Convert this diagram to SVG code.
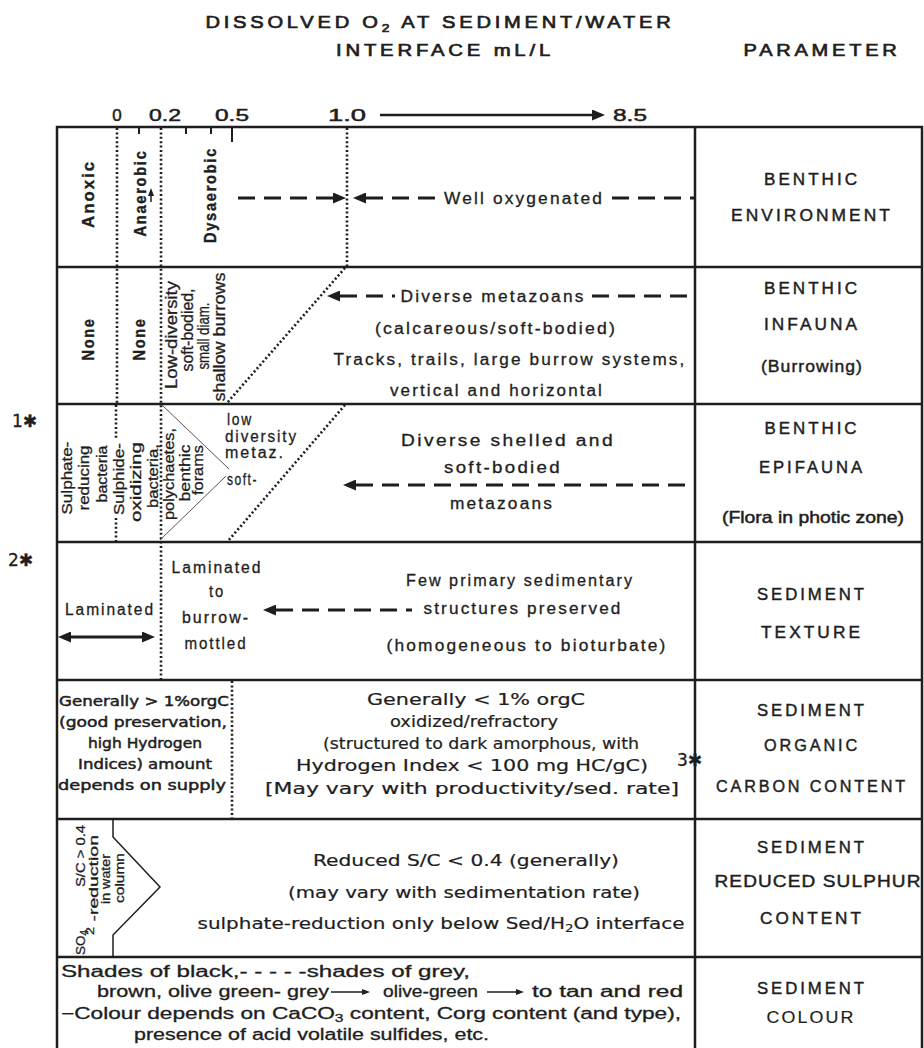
<svg xmlns="http://www.w3.org/2000/svg" width="924" height="1048" viewBox="0 0 924 1048">
<defs>
<style>
text{font-family:"Liberation Sans",Arial,sans-serif;fill:#1e1e1e;stroke:#1e1e1e;stroke-width:0.3px}
.m{text-anchor:middle}
.hd{font-size:16px;letter-spacing:3px;stroke-width:0.65px}
.num{font-size:17px;stroke-width:0.5px}
.rc{font-size:17px;letter-spacing:3px;text-anchor:middle;stroke-width:0.45px}
.rl{font-size:17px;font-weight:bold;letter-spacing:2px;text-anchor:middle;stroke-width:0.4px}
.rt{font-size:15px;text-anchor:middle}
.tx{font-size:16px;letter-spacing:2px}
.kr{font-family:"DejaVu Sans","Liberation Sans",sans-serif;font-size:15px;stroke-width:0.2px}
.kl{font-family:"DejaVu Sans","Liberation Sans",sans-serif;font-size:14.5px;stroke-width:0.5px}
.c7{font-size:16px}
.ast{font-family:"DejaVu Sans",sans-serif;font-size:17px}
.ln{stroke:#1e1e1e;stroke-width:2.5;fill:none}
.tk{stroke:#1e1e1e;stroke-width:2;fill:none}
.dot{stroke:#1e1e1e;stroke-width:2.6;stroke-dasharray:2 2.4;fill:none}
.dash{stroke:#1e1e1e;stroke-width:3.2;stroke-dasharray:17 9;fill:none}
.thin{stroke:#555;stroke-width:1;fill:none}
.sl{stroke:#1e1e1e;stroke-width:1.5;fill:none}
</style>
<marker id="ah" viewBox="0 0 13 11" refX="0" refY="5.5" markerWidth="13" markerHeight="11" markerUnits="userSpaceOnUse" orient="auto-start-reverse"><path d="M0,0 L13,5.5 L0,11 z" fill="#1e1e1e"/></marker>
<marker id="sa" viewBox="0 0 8 6" refX="0" refY="3" markerWidth="8" markerHeight="6" markerUnits="userSpaceOnUse" orient="auto-start-reverse"><path d="M0,0 L8,3 L0,6 z" fill="#1e1e1e"/></marker>
</defs>
<rect width="924" height="1048" fill="#fff"/>

<g id="header">
<text class="hd m" x="440" y="28" textLength="469" lengthAdjust="spacingAndGlyphs">DISSOLVED O<tspan font-size="11" dy="4">2</tspan><tspan dy="-4"> AT SEDIMENT/WATER</tspan></text>
<text class="hd m" x="445" y="56" textLength="218" lengthAdjust="spacingAndGlyphs">INTERFACE mL/L</text>
<text class="hd m" x="822" y="56" textLength="157" lengthAdjust="spacingAndGlyphs">PARAMETER</text>
</g>

<g id="scale">
<text class="num m" x="117" y="121">0</text>
<text class="num m" x="165" y="121" textLength="32" lengthAdjust="spacingAndGlyphs">0.2</text>
<text class="num m" x="232" y="121" textLength="34" lengthAdjust="spacingAndGlyphs">0.5</text>
<text class="num m" x="347" y="121" textLength="38" lengthAdjust="spacingAndGlyphs">1.0</text>
<text class="num m" x="630" y="121" textLength="34" lengthAdjust="spacingAndGlyphs">8.5</text>
<path class="tk" d="M139,127V134 M186,127V134 M211,127V134 M232,127V142"/>
</g>

<g id="table">
<path class="ln" d="M57,1048V127H922V1048 M695,127V1048 M57,267H922 M57,404H922 M57,542H922 M57,680H922 M57,819H922 M57,957H922"/>
</g>

<g id="benthic-environment">
<path class="dot" d="M117,128V404 M161,128V680 M347,128V267"/>
<text class="rl" transform="rotate(-90 94 194)" x="94" y="194" textLength="68" lengthAdjust="spacingAndGlyphs">Anoxic</text>
<text class="rl" transform="rotate(-90 146 193)" x="146" y="193" textLength="87" lengthAdjust="spacingAndGlyphs">Anaerobic</text>
<text class="rl" transform="rotate(-90 216 195)" x="216" y="195" textLength="96" lengthAdjust="spacingAndGlyphs">Dysaerobic</text>
<path class="sl" d="M151,202V196" marker-end="url(#sa)"/>
<text class="tx m" x="524" y="204" textLength="160" lengthAdjust="spacingAndGlyphs">Well oxygenated</text>
<text class="rc" x="812" y="185" textLength="96" lengthAdjust="spacingAndGlyphs">BENTHIC</text>
<text class="rc" x="812" y="221" textLength="162" lengthAdjust="spacingAndGlyphs">ENVIRONMENT</text>
</g>

<g id="benthic-infauna">
<path class="dot" d="M345,268L227,403"/>
<text class="rl" transform="rotate(-90 94 339)" x="94" y="339" textLength="43" lengthAdjust="spacingAndGlyphs">None</text>
<text class="rl" transform="rotate(-90 145 339)" x="145" y="339" textLength="43" lengthAdjust="spacingAndGlyphs">None</text>
<text class="rt" style="font-size:16px" transform="rotate(-90 177 335)" x="177" y="335" textLength="108" lengthAdjust="spacingAndGlyphs">Low-diversity</text>
<text class="rt" style="font-size:16px" transform="rotate(-90 193 330)" x="193" y="330" textLength="83" lengthAdjust="spacingAndGlyphs">soft-bodied,</text>
<text class="rt" style="font-size:16px" transform="rotate(-90 209 336)" x="209" y="336" textLength="67" lengthAdjust="spacingAndGlyphs">small diam.</text>
<text class="rt" style="font-size:16px" transform="rotate(-90 225 337)" x="225" y="337" textLength="129" lengthAdjust="spacingAndGlyphs">shallow burrows</text>
<text class="tx m" x="493" y="302" textLength="185" lengthAdjust="spacingAndGlyphs">Diverse metazoans</text>
<text class="tx m" x="496" y="334" textLength="242" lengthAdjust="spacingAndGlyphs">(calcareous/soft-bodied)</text>
<text class="tx m" x="510" y="365" textLength="353" lengthAdjust="spacingAndGlyphs">Tracks, trails, large burrow systems,</text>
<text class="tx m" x="497" y="396" textLength="214" lengthAdjust="spacingAndGlyphs">vertical and horizontal</text>
<text class="rc" x="812" y="294" textLength="96" lengthAdjust="spacingAndGlyphs">BENTHIC</text>
<text class="rc" x="812" y="330" textLength="96" lengthAdjust="spacingAndGlyphs">INFAUNA</text>
<text class="rc" x="812" y="372" textLength="102" lengthAdjust="spacingAndGlyphs" style="letter-spacing:1px">(Burrowing)</text>
</g>

<g id="benthic-epifauna">
<text class="ast" x="12" y="427">1✱</text>
<path class="dot" d="M116,405V440 M116,518V541 M345,405L228,541"/>
<path class="thin" d="M162,405L229,469 M226,476L160,540"/>
<text class="rt" transform="rotate(-90 72 478)" x="72" y="478" textLength="73" lengthAdjust="spacingAndGlyphs">Sulphate-</text>
<text class="rt" transform="rotate(-90 89 478)" x="89" y="478" textLength="65" lengthAdjust="spacingAndGlyphs">reducing</text>
<text class="rt" transform="rotate(-90 107 474)" x="107" y="474" textLength="57" lengthAdjust="spacingAndGlyphs">bacteria</text>
<text class="rt" transform="rotate(-90 124 479)" x="124" y="479" textLength="72" lengthAdjust="spacingAndGlyphs">Sulphide-</text>
<text class="rt" transform="rotate(-90 141 482)" x="141" y="482" textLength="80" lengthAdjust="spacingAndGlyphs">oxidizing</text>
<text class="rt" transform="rotate(-90 158 476)" x="158" y="476" textLength="64" lengthAdjust="spacingAndGlyphs">bacteria,</text>
<text class="rt" transform="rotate(-90 174 474)" x="174" y="474" textLength="92" lengthAdjust="spacingAndGlyphs">polychaetes,</text>
<text class="rt" transform="rotate(-90 190 473)" x="190" y="473" textLength="57" lengthAdjust="spacingAndGlyphs">benthic</text>
<text class="rt" transform="rotate(-90 203 470)" x="203" y="470" textLength="50" lengthAdjust="spacingAndGlyphs">forams</text>
<text class="tx" x="227" y="425" textLength="26" lengthAdjust="spacingAndGlyphs">low</text>
<text class="tx" x="225" y="442" textLength="73" lengthAdjust="spacingAndGlyphs">diversity</text>
<text class="tx" x="225" y="458" textLength="60" lengthAdjust="spacingAndGlyphs">metaz.</text>
<text class="tx" x="227" y="485" textLength="31" lengthAdjust="spacingAndGlyphs">soft-</text>
<text class="tx m" x="508" y="446" textLength="214" lengthAdjust="spacingAndGlyphs">Diverse shelled and</text>
<text class="tx m" x="503" y="473" textLength="118" lengthAdjust="spacingAndGlyphs">soft-bodied</text>
<text class="tx m" x="502" y="509" textLength="104" lengthAdjust="spacingAndGlyphs">metazoans</text>
<text class="rc" x="812" y="434" textLength="95" lengthAdjust="spacingAndGlyphs">BENTHIC</text>
<text class="rc" x="812" y="473" textLength="106" lengthAdjust="spacingAndGlyphs">EPIFAUNA</text>
<text class="rc" x="813" y="523" textLength="182" lengthAdjust="spacingAndGlyphs" style="letter-spacing:0;stroke-width:0.5px">(Flora in photic zone)</text>
</g>

<g id="sediment-texture">
<text class="ast" x="8" y="566">2✱</text>
<text class="tx" x="65" y="615" textLength="90" lengthAdjust="spacingAndGlyphs">Laminated</text>
<text class="tx m" x="217" y="573" textLength="91" lengthAdjust="spacingAndGlyphs">Laminated</text>
<text class="tx m" x="217" y="597" textLength="16" lengthAdjust="spacingAndGlyphs">to</text>
<text class="tx m" x="216" y="623" textLength="68" lengthAdjust="spacingAndGlyphs">burrow-</text>
<text class="tx m" x="216" y="649" textLength="63" lengthAdjust="spacingAndGlyphs">mottled</text>
<text class="tx m" x="520" y="586" textLength="228" lengthAdjust="spacingAndGlyphs">Few primary sedimentary</text>
<text class="tx m" x="523" y="614" textLength="199" lengthAdjust="spacingAndGlyphs">structures preserved</text>
<text class="tx m" x="527" y="651" textLength="281" lengthAdjust="spacingAndGlyphs">(homogeneous to bioturbate)</text>
<text class="rc" x="812" y="600" textLength="110" lengthAdjust="spacingAndGlyphs">SEDIMENT</text>
<text class="rc" x="812" y="638" textLength="102" lengthAdjust="spacingAndGlyphs">TEXTURE</text>
</g>

<g id="organic-carbon">
<path class="dot" d="M232,681V818"/>
<text class="kl m" x="144" y="706" textLength="170" lengthAdjust="spacingAndGlyphs">Generally &gt; 1%orgC</text>
<text class="kl m" x="143" y="727" textLength="168" lengthAdjust="spacingAndGlyphs">(good preservation,</text>
<text class="kl m" x="145" y="748" textLength="114" lengthAdjust="spacingAndGlyphs">high Hydrogen</text>
<text class="kl m" x="145" y="769" textLength="134" lengthAdjust="spacingAndGlyphs">Indices) amount</text>
<text class="kl m" x="142" y="790" textLength="168" lengthAdjust="spacingAndGlyphs">depends on supply</text>
<text class="kr m" x="476" y="705" textLength="218" lengthAdjust="spacingAndGlyphs">Generally  &lt;  1% orgC</text>
<text class="kr m" x="474" y="727" textLength="168" lengthAdjust="spacingAndGlyphs">oxidized/refractory</text>
<text class="kr m" x="481" y="749" textLength="316" lengthAdjust="spacingAndGlyphs">(structured to dark amorphous, with</text>
<text class="kr m" x="472" y="771" textLength="352" lengthAdjust="spacingAndGlyphs">Hydrogen Index  &lt;  100 mg HC/gC)</text>
<text class="kr m" x="472" y="794" textLength="414" lengthAdjust="spacingAndGlyphs">[May vary with productivity/sed. rate]</text>
<text class="ast" x="677" y="766">3✱</text>
<text class="rc" x="812" y="716" textLength="110" lengthAdjust="spacingAndGlyphs">SEDIMENT</text>
<text class="rc" x="812" y="751" textLength="96" lengthAdjust="spacingAndGlyphs">ORGANIC</text>
<text class="rc" x="812" y="792" textLength="192" lengthAdjust="spacingAndGlyphs">CARBON CONTENT</text>
</g>

<g id="reduced-sulphur">
<path class="ln" style="stroke-width:1.5" d="M113,819V837L160,887L113,935V957"/>
<text class="rt" style="font-size:13.5px" transform="rotate(-90 85 856)" x="85" y="856" textLength="62" lengthAdjust="spacingAndGlyphs">S/C &gt; 0.4</text>
<text style="font-size:13.5px" transform="rotate(-90 85 955)" x="85" y="955">SO<tspan font-size="10" dy="3">4</tspan></text>
<text style="font-size:13.5px" transform="rotate(-90 98 935)" x="98" y="935" textLength="100" lengthAdjust="spacingAndGlyphs"><tspan font-size="10" dy="-4">2</tspan><tspan dy="4"> -reduction</tspan></text>
<text class="rt" style="font-size:13.5px" transform="rotate(-90 110 879)" x="110" y="879" textLength="50" lengthAdjust="spacingAndGlyphs">in water</text>
<text class="rt" style="font-size:13.5px" transform="rotate(-90 124 878)" x="124" y="878" textLength="50" lengthAdjust="spacingAndGlyphs">column</text>
<text class="kr m" x="466" y="866" textLength="306" lengthAdjust="spacingAndGlyphs">Reduced S/C &lt; 0.4 (generally)</text>
<text class="kr m" x="464" y="898" textLength="352" lengthAdjust="spacingAndGlyphs">(may vary with sedimentation rate)</text>
<text class="kr m" x="441" y="929" textLength="487" lengthAdjust="spacingAndGlyphs">sulphate-reduction only below Sed/H<tspan font-size="10" dy="3">2</tspan><tspan dy="-3">O interface</tspan></text>
<text class="rc" x="812" y="853" textLength="110" lengthAdjust="spacingAndGlyphs">SEDIMENT</text>
<text class="rc" x="818" y="887" textLength="207" lengthAdjust="spacingAndGlyphs" style="letter-spacing:1px">REDUCED SULPHUR</text>
<text class="rc" x="812" y="924" textLength="104" lengthAdjust="spacingAndGlyphs">CONTENT</text>
</g>

<g id="sediment-colour">
<text class="c7" x="61" y="977" textLength="409" lengthAdjust="spacingAndGlyphs">Shades of black,- - - - -shades of grey,</text>
<text class="c7" x="97" y="997" textLength="232" lengthAdjust="spacingAndGlyphs">brown, olive green- grey</text>
<text class="c7" x="383" y="997" textLength="95" lengthAdjust="spacingAndGlyphs">olive-green</text>
<text class="c7" x="532" y="997" textLength="151" lengthAdjust="spacingAndGlyphs">to tan and red</text>
<text class="c7" x="61" y="1019" textLength="620" lengthAdjust="spacingAndGlyphs">−Colour depends on CaCO<tspan font-size="11" dy="3">3</tspan><tspan dy="-3"> content, Corg content (and type),</tspan></text>
<text class="c7" x="134" y="1040" textLength="355" lengthAdjust="spacingAndGlyphs">presence  of acid volatile sulfides, etc.</text>
<text class="rc" x="812" y="994" textLength="110" lengthAdjust="spacingAndGlyphs">SEDIMENT</text>
<text class="rc" x="811" y="1023" textLength="89" lengthAdjust="spacingAndGlyphs" style="letter-spacing:2px;stroke-width:0.2px">COLOUR</text>
</g>

<g id="connectors">
<path class="ln" d="M380,115H592" marker-end="url(#ah)"/>
<path class="dash" d="M333,198H230" marker-start="url(#ah)"/>
<path class="dash" d="M366,198H437" marker-start="url(#ah)"/>
<path class="dash" d="M612,198H694"/>
<path class="dash" d="M340,296H395" marker-start="url(#ah)"/>
<path class="dash" d="M592,296H694"/>
<path class="dash" d="M356,485H685" marker-start="url(#ah)"/>
<path class="dash" d="M276,610H412" marker-start="url(#ah)"/>
<path class="ln" style="stroke-width:3" d="M71,637H142" marker-start="url(#ah)" marker-end="url(#ah)"/>
<path class="sl" d="M331,992H362" marker-end="url(#sa)"/>
<path class="sl" d="M487,992H516" marker-end="url(#sa)"/>
</g>
</svg>
